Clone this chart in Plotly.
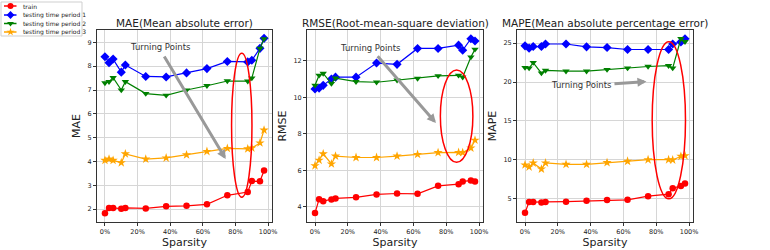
import plotly.graph_objects as go

sparsity = [0, 2.5, 5, 10, 12.5, 25, 37.5, 50, 62.5, 75, 87.5, 90, 95, 97.5]
x_tickvals = [0, 20, 40, 60, 80, 100]
x_ticktext = ["0%", "20%", "40%", "60%", "80%", "100%"]

mae_train = [1.83, 2.05, 2.05, 2.02, 2.05, 2.03, 2.12, 2.14, 2.20, 2.58, 2.72, 3.18, 3.17, 3.62]
mae_p1 = [8.40, 8.15, 8.30, 7.75, 8.05, 7.57, 7.55, 7.72, 7.90, 8.20, 8.18, 8.25, 8.75, 9.17]
mae_p2 = [7.30, 7.35, 7.52, 7.00, 7.35, 6.85, 6.78, 7.00, 7.18, 7.38, 7.37, 7.50, 8.75, 9.15]
mae_p3 = [4.05, 4.10, 4.05, 3.95, 4.32, 4.10, 4.15, 4.28, 4.42, 4.55, 4.53, 4.57, 4.78, 5.32]

rmse_train = [3.66, 4.42, 4.31, 4.40, 4.46, 4.52, 4.68, 4.73, 4.71, 5.15, 5.24, 5.39, 5.44, 5.39]
rmse_p1 = [10.45, 10.50, 10.65, 11.00, 11.10, 11.10, 11.87, 11.80, 12.67, 12.67, 12.85, 12.57, 13.20, 13.08]
rmse_p2 = [10.65, 11.20, 11.30, 10.75, 11.05, 10.85, 10.82, 10.93, 11.03, 11.17, 11.20, 11.10, 12.20, 12.62]
rmse_p3 = [6.25, 6.55, 6.90, 6.35, 6.78, 6.70, 6.70, 6.78, 6.87, 6.97, 6.98, 6.97, 7.22, 7.65]

mape_train = [3.16, 4.57, 4.55, 4.50, 4.57, 4.60, 4.70, 4.80, 4.83, 5.30, 5.56, 6.33, 6.63, 6.93]
mape_p1 = [24.66, 24.36, 24.57, 24.57, 24.90, 24.90, 24.53, 24.44, 24.19, 24.19, 24.19, 24.90, 25.17, 25.56]
mape_p2 = [21.87, 21.80, 22.50, 21.15, 21.50, 21.40, 21.40, 21.60, 21.80, 22.00, 22.10, 21.80, 25.60, 25.20]
mape_p3 = [9.33, 9.07, 9.58, 8.80, 9.58, 9.40, 9.40, 9.63, 9.80, 10.00, 10.00, 9.97, 10.44, 10.52]

series_names = ["train", "testing time period 1", "testing time period 2", "testing time period 3"]
colors = ["#ff0000", "#0000ff", "#008000", "#ffa500"]
symbols = ["circle", "diamond", "triangle-down", "star"]
msizes = [6.5, 7, 6.5, 7]

titles = ["MAE(Mean absolute error)", "RMSE(Root-mean-square deviation)", "MAPE(Mean absolute percentage error)"]
ylabels = ["MAE", "RMSE", "MAPE"]
panels = [
    [mae_train, mae_p1, mae_p2, mae_p3],
    [rmse_train, rmse_p1, rmse_p2, rmse_p3],
    [mape_train, mape_p1, mape_p2, mape_p3],
]
yranges = [[1.46, 9.52], [3.17, 13.68], [1.98, 26.7]]
ytickvals = [[2, 3, 4, 5, 6, 7, 8, 9], [4, 6, 8, 10, 12], [5, 10, 15, 20, 25]]
xdomains = [[97 / 770, 272 / 770], [307 / 770, 483 / 770], [517 / 770, 693 / 770]]
ydomain = [1 - 222 / 250, 1 - 30 / 250]

fig = go.Figure()
for p, data in enumerate(panels):
    xa = "x" if p == 0 else f"x{p+1}"
    ya = "y" if p == 0 else f"y{p+1}"
    for s, vals in enumerate(data):
        fig.add_trace(go.Scatter(
            x=sparsity, y=vals, mode="lines+markers", name=series_names[s],
            line=dict(color=colors[s], width=1.2),
            marker=dict(color=colors[s], symbol=symbols[s], size=msizes[s], line=dict(width=0)),
            xaxis=xa, yaxis=ya, showlegend=False,
        ))

# Compact legend drawn on a hidden helper axis (pixel-like units)
legend_rows = [6, 15, 23.5, 32]
for s in range(4):
    fig.add_trace(go.Scatter(
        x=[3, 15.5], y=[legend_rows[s], legend_rows[s]], mode="lines",
        line=dict(color=colors[s], width=1.5), xaxis="x4", yaxis="y4",
        showlegend=False, hoverinfo="skip"))
    fig.add_trace(go.Scatter(
        x=[9.5], y=[legend_rows[s]], mode="markers",
        marker=dict(color=colors[s], symbol=symbols[s], size=6, line=dict(width=0)),
        xaxis="x4", yaxis="y4", showlegend=False, hoverinfo="skip"))

axis_common = dict(
    showline=True, mirror=True, linecolor="#333", linewidth=1,
    showgrid=True, gridcolor="#d6d6d6", gridwidth=1.3,
    ticks="outside", ticklen=3, tickcolor="#333", tickwidth=1,
    tickfont=dict(size=6.5, color="#222", family="DejaVu Sans"),
    zeroline=False, automargin=False,
)
layout = {}
for p in range(3):
    xk = "xaxis" if p == 0 else f"xaxis{p+1}"
    yk = "yaxis" if p == 0 else f"yaxis{p+1}"
    ya = "y" if p == 0 else f"y{p+1}"
    xa = "x" if p == 0 else f"x{p+1}"
    layout[xk] = dict(axis_common, domain=xdomains[p], anchor=ya, range=[-4.875, 102.375],
                      tickvals=x_tickvals, ticktext=x_ticktext,
                      title=dict(text="Sparsity", font=dict(size=11, color="#222", family="DejaVu Sans"), standoff=2))
    layout[yk] = dict(axis_common, domain=ydomain, anchor=xa, range=yranges[p],
                      tickvals=ytickvals[p],
                      title=dict(text=ylabels[p], font=dict(size=11, color="#222", family="DejaVu Sans"), standoff=4))
layout["xaxis4"] = dict(domain=[1 / 770, 82 / 770], anchor="y4", range=[0, 81], visible=False, fixedrange=True)
layout["yaxis4"] = dict(domain=[1 - 36 / 250, 1 - 2 / 250], anchor="x4", range=[36, 2], visible=False, fixedrange=True)
fig.update_layout(**layout)

annotations = []
for p in range(3):
    cx = (xdomains[p][0] + xdomains[p][1]) / 2
    annotations.append(dict(text=titles[p], xref="paper", yref="paper", x=cx, y=1 - 23 / 250,
                            showarrow=False, xanchor="center", yanchor="middle",
                            font=dict(size=10.5, color="#222", family="DejaVu Sans")))

for s in range(4):
    annotations.append(dict(text=series_names[s], xref="x4", yref="y4", x=20, y=legend_rows[s],
                            xanchor="left", yanchor="middle", showarrow=False,
                            font=dict(size=6, color="#222", family="DejaVu Sans")))

tp_text = [(34, 8.82), (34, 12.72), (34.5, 19.64)]
tp_tail = [(35.8, 8.47), (37.4, 12.33), (53.6, 19.75)]
tp_head = [(74, 4.1), (73.7, 8.59), (74, 20.07)]
for p in range(3):
    xa = "x" if p == 0 else f"x{p+1}"
    ya = "y" if p == 0 else f"y{p+1}"
    annotations.append(dict(text="Turning Points", x=tp_text[p][0], y=tp_text[p][1], xref=xa, yref=ya,
                            showarrow=False, font=dict(size=8.5, color="#333", family="DejaVu Sans")))
    annotations.append(dict(text="", x=tp_head[p][0], y=tp_head[p][1], xref=xa, yref=ya,
                            ax=tp_tail[p][0], ay=tp_tail[p][1], axref=xa, ayref=ya,
                            showarrow=True, arrowhead=2, arrowsize=0.6, arrowwidth=3, arrowcolor="#999999"))

shapes = [dict(type="rect", xref="paper", yref="paper", x0=1 / 770, x1=82 / 770,
               y0=1 - 36 / 250, y1=1 - 2 / 250, line=dict(color="#cfcfcf", width=1),
               fillcolor="rgba(0,0,0,0)", layer="above")]
ellipses = [(77.6, 90.1, 2.5, 8.54), (76.4, 96.2, 6.44, 11.49), (77.5, 97.8, 4.96, 25.2)]
for p in range(3):
    xa = "x" if p == 0 else f"x{p+1}"
    ya = "y" if p == 0 else f"y{p+1}"
    x0, x1, y0, y1 = ellipses[p]
    shapes.append(dict(type="circle", xref=xa, yref=ya, x0=x0, x1=x1, y0=y0, y1=y1,
                       line=dict(color="#ff0000", width=1.5)))

fig.update_layout(
    width=770, height=250,
    margin=dict(l=0, r=0, t=0, b=0),
    paper_bgcolor="white", plot_bgcolor="white",
    font=dict(family="DejaVu Sans"),
    annotations=annotations, shapes=shapes,
    showlegend=False,
)

fig.write_html("out.html", config={"displayModeBar": False},
               post_script="document.body.style.margin='0';")
